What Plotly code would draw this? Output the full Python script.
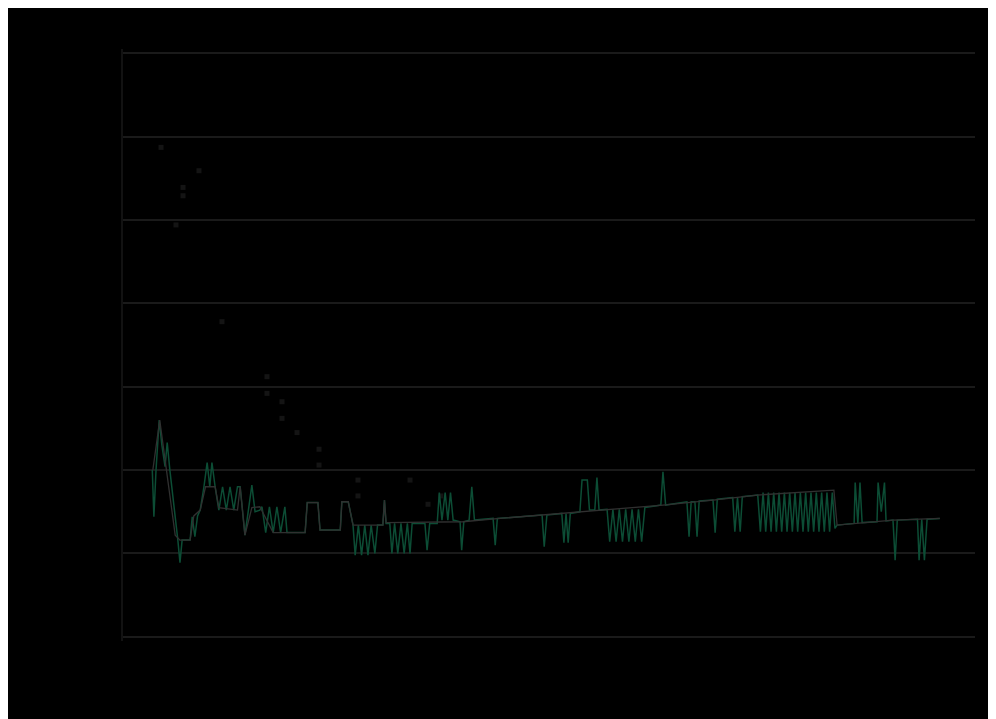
import plotly.graph_objects as go

# ---- data ----
gray_x = [5.6, 6.9, 9.8, 10.7, 12.6, 13.3, 14.5, 15.5, 17.3, 18.0, 21.5, 22.0, 22.9, 24.2, 25.7,
          28.2, 34.2, 34.6, 36.6, 37.0, 40.8, 41.1, 42.3, 43.2, 48.8, 49.1, 49.4, 63.8, 70.8,
          85.8, 101.4, 110.8, 119.1, 133.5, 134.1, 144.6, 153.4]
gray_y = [2.0, 2.6, 1.22, 1.16, 1.16, 1.45, 1.52, 1.80, 1.80, 1.55, 1.52, 1.80, 1.22, 1.55, 1.56,
          1.25, 1.25, 1.61, 1.61, 1.28, 1.28, 1.62, 1.62, 1.34, 1.34, 1.64, 1.37, 1.38, 1.42,
          1.50, 1.58, 1.64, 1.70, 1.76, 1.34, 1.40, 1.42]

green_x = [5.5, 5.8, 6.2, 6.8, 7.3, 7.9, 8.3, 8.8, 10.3, 10.7, 11.1, 12.6, 13.0, 13.5, 14.0, 14.5,
           15.2, 15.8, 16.3, 16.7, 17.3, 18.0, 18.7, 19.4, 20.1, 20.8, 21.5, 22.0, 22.9, 24.2,
           24.8, 25.7, 26.1, 26.8, 27.5, 28.2, 28.9, 29.6, 30.4, 30.8, 34.2, 34.6, 36.6, 37.0,
           40.8, 41.1, 42.3, 43.2, 43.6, 44.2, 44.8, 45.4, 46.0, 46.6, 47.3, 47.8, 48.8, 49.1,
           49.4, 50.1, 50.5, 51.0, 51.6, 52.2, 52.8, 53.4, 53.9, 54.3, 56.7, 57.1, 57.6, 59.0,
           59.4, 59.9, 60.5, 61.0, 61.5, 62.0, 63.3, 63.6, 64.0, 65.0, 65.5, 66.0, 69.5, 69.9,
           70.3, 78.7, 79.1, 79.6, 82.4, 82.8, 83.2, 83.6, 84.0, 85.8, 86.2, 87.2, 87.6, 88.6,
           89.0, 89.4, 90.9, 91.4, 92.0, 92.6, 93.2, 93.8, 94.4, 95.0, 95.6, 96.2, 96.8, 97.4,
           98.0, 101.0, 101.4, 101.9, 105.9, 106.3, 106.7, 107.4, 107.8, 108.2, 110.8, 111.2,
           111.6, 114.5, 114.9, 115.4, 115.9, 116.3, 119.2,
           119.7, 120.2, 120.7, 121.2, 121.7, 122.2, 122.7, 123.2, 123.7, 124.2, 124.7, 125.2,
           125.7, 126.2, 126.7, 127.2, 127.7, 128.2, 128.7, 129.2, 129.7, 130.2, 130.7, 131.2,
           131.7, 132.2, 132.7, 133.2, 133.7, 134.1, 137.3, 137.5, 138.0, 138.4, 138.8, 141.6,
           141.8, 142.4, 143.0, 143.3, 144.6, 145.0, 145.4, 149.2, 149.5, 150.0, 150.5, 151.0,
           153.4]
green_y = [2.00, 1.44, 2.00, 2.60, 2.30, 2.04, 2.33, 2.00, 1.16, 0.89, 1.16, 1.16, 1.44, 1.20, 1.45, 1.52,
           1.80, 2.09, 1.80, 2.09, 1.80, 1.52, 1.80, 1.52, 1.80, 1.52, 1.80, 1.80, 1.22, 1.82,
           1.50, 1.52, 1.56, 1.25, 1.56, 1.25, 1.56, 1.25, 1.56, 1.25, 1.25, 1.61, 1.61, 1.28,
           1.28, 1.62, 1.62, 1.34, 0.98, 1.34, 0.98, 1.34, 0.98, 1.34, 1.00, 1.34, 1.34, 1.64,
           1.36, 1.36, 1.00, 1.36, 1.00, 1.36, 1.00, 1.36, 1.00, 1.36, 1.36, 1.04, 1.36, 1.36,
           1.73, 1.40, 1.73, 1.40, 1.73, 1.40, 1.38, 1.04, 1.38, 1.40, 1.80, 1.40, 1.42, 1.10,
           1.42, 1.46, 1.08, 1.46, 1.48, 1.13, 1.48, 1.13, 1.48, 1.50, 1.88, 1.88, 1.52, 1.52,
           1.91, 1.52, 1.53, 1.14, 1.53, 1.14, 1.53, 1.14, 1.53, 1.14, 1.53, 1.14, 1.53, 1.14,
           1.55, 1.58, 1.98, 1.58, 1.62, 1.20, 1.62, 1.62, 1.20, 1.63, 1.64, 1.25,
           1.65, 1.67, 1.26, 1.67, 1.26, 1.68, 1.70,
           1.26, 1.73, 1.26, 1.73, 1.26, 1.73, 1.26, 1.73, 1.26, 1.73, 1.26, 1.73,
           1.26, 1.73, 1.26, 1.73, 1.26, 1.73, 1.26, 1.73, 1.26, 1.73, 1.26, 1.73,
           1.26, 1.73, 1.26, 1.73, 1.30, 1.34, 1.36, 1.85, 1.36, 1.85, 1.37, 1.38,
           1.85, 1.50, 1.85, 1.39, 1.40, 0.92, 1.40, 1.41, 0.92, 1.41, 0.92, 1.41,
           1.42]

dots_x = [7.14, 14.27, 11.27, 11.27, 9.95, 18.59, 27.04, 27.04, 29.86, 29.86, 32.68,
          36.81, 36.81, 44.13, 44.13, 53.90, 57.28, 59.70]
dots_y = [5.87, 5.59, 5.39, 5.29, 4.94, 3.78, 3.12, 2.92, 2.82, 2.62, 2.45,
          2.25, 2.06, 1.88, 1.69, 1.88, 1.59, 1.69]

y_ticks = [0, 1, 2, 3, 4, 5, 6, 7]

fig = go.Figure()
fig.add_trace(go.Scatter(x=dots_x, y=dots_y, mode="markers",
                         marker=dict(symbol="square", size=5, color="#141414"),
                         showlegend=False, hoverinfo="skip"))
fig.add_trace(go.Scatter(x=green_x, y=green_y, mode="lines",
                         line=dict(color="#0c4d35", width=1.5),
                         showlegend=False, hoverinfo="skip"))
fig.add_trace(go.Scatter(x=gray_x, y=gray_y, mode="lines",
                         line=dict(color="#303030", width=1.3),
                         showlegend=False, hoverinfo="skip"))

fig.update_layout(
    width=1010, height=719,
    margin=dict(l=115, r=43, t=41, b=86),
    paper_bgcolor="black",
    plot_bgcolor="black",
    showlegend=False,
    xaxis=dict(range=[0, 160], showgrid=False, zeroline=False, showline=False,
               showticklabels=False, ticks=""),
    yaxis=dict(range=[-0.05, 7.05], tickvals=y_ticks, showgrid=True,
               gridcolor="#1a1a1a", gridwidth=1.5, zeroline=False,
               showline=True, linecolor="#121212", linewidth=1.5,
               showticklabels=False, ticks=""),
)

fig.write_html("out.html")
